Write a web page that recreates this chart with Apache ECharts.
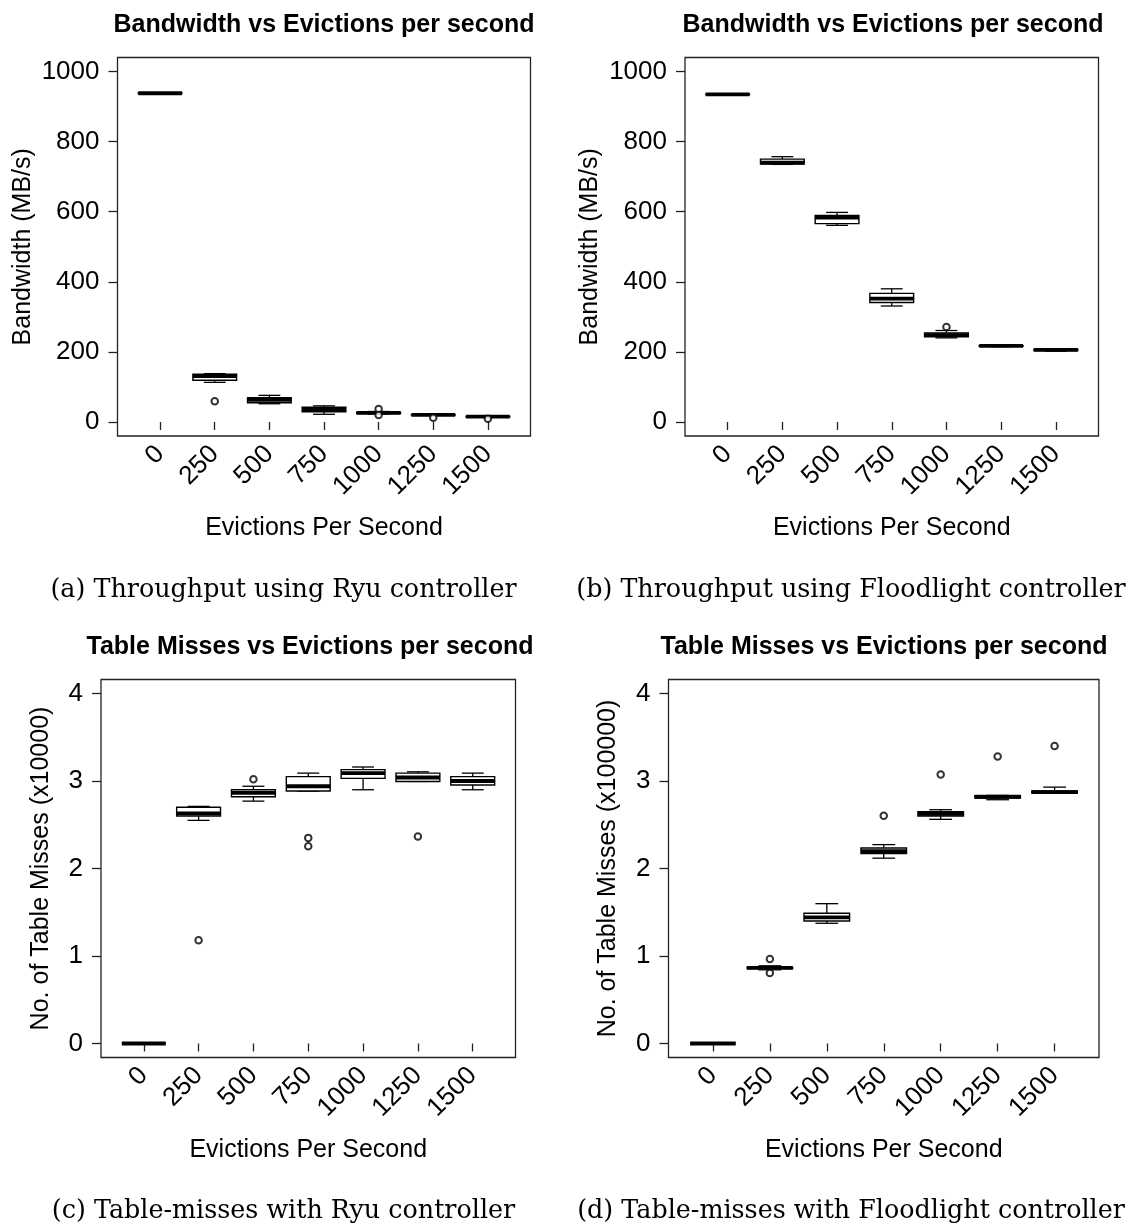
<!DOCTYPE html>
<html>
<head>
<meta charset="utf-8">
<title>Evictions per second: bandwidth and table misses</title>
<script src="https://cdn.jsdelivr.net/npm/echarts@6/dist/echarts.min.js"></script>
<style>
  html, body { margin: 0; padding: 0; background: #fff; }
  #chart { width: 1128px; height: 1224px; }
</style>
</head>
<body>
<div id="chart"></div>
<script>
// Eviction rates shown on every x axis
const categories = ['0', '250', '500', '750', '1000', '1250', '1500'];

// Tick values of the two kinds of y axis
const bandwidthTicks = [0, 200, 400, 600, 800, 1000];
const missesTicks = [0, 1, 2, 3, 4];

// Box statistics per eviction rate: [lower whisker, Q1, median, Q3, upper whisker]
const ryuBandwidth = [
  [937, 937.5, 938, 938.5, 939],
  [113, 119, 131, 136, 138],
  [52, 55, 63, 69, 76],
  [22, 29, 36, 42, 46],
  [23, 24, 26, 28, 30],
  [19, 20, 20.5, 21, 22],
  [14, 15, 15.5, 16, 17]
];
// Outliers: [eviction rate, value]
const ryuBandwidthOutliers = [['250', 59], ['1000', 37], ['1000', 20], ['1250', 12], ['1500', 9.5]];

const floodlightBandwidth = [
  [934, 934.5, 935, 935.5, 936],
  [735, 736, 740, 750, 757],
  [561, 566, 583, 589, 598],
  [331, 341, 352, 367, 380],
  [240, 243, 248, 254, 261],
  [215, 216, 217, 218, 219],
  [202, 204, 206, 208, 209]
];
const floodlightBandwidthOutliers = [['1000', 271]];

const ryuMisses = [
  [0, 0, 0, 0, 0],
  [2.55, 2.60, 2.63, 2.70, 2.71],
  [2.77, 2.82, 2.865, 2.90, 2.94],
  [2.885, 2.885, 2.94, 3.05, 3.09],
  [2.90, 3.03, 3.09, 3.13, 3.16],
  [2.995, 2.995, 3.04, 3.09, 3.105],
  [2.90, 2.955, 3.00, 3.05, 3.09]
];
const ryuMissesOutliers = [['250', 1.18], ['500', 3.02], ['750', 2.35], ['750', 2.255], ['1250', 2.365]];

const floodlightMisses = [
  [0, 0, 0, 0, 0],
  [0.842, 0.858, 0.865, 0.872, 0.888],
  [1.374, 1.40, 1.442, 1.488, 1.598],
  [2.118, 2.171, 2.197, 2.235, 2.273],
  [2.562, 2.60, 2.626, 2.649, 2.672],
  [2.786, 2.805, 2.82, 2.832, 2.835],
  [2.86, 2.862, 2.873, 2.885, 2.93]
];
const floodlightMissesOutliers = [['250', 0.965], ['250', 0.806], ['750', 2.603], ['1000', 3.074], ['1250', 3.279], ['1500', 3.40]];

// Layout of the four panels
const panels = [
  { title: 'Bandwidth vs Evictions per second', yName: 'Bandwidth (MB/s)',
    caption: '(a) Throughput using Ryu controller',
    boxes: ryuBandwidth, outliers: ryuBandwidthOutliers, ticks: bandwidthTicks,
    yMin: -40, yMax: 1040,
    grid: { left: 117.5, top: 57.5, width: 413, height: 378.5 }, nameGap: 82,
    titleX: 324, captionX: 283.5 },
  { title: 'Bandwidth vs Evictions per second', yName: 'Bandwidth (MB/s)',
    caption: '(b) Throughput using Floodlight controller',
    boxes: floodlightBandwidth, outliers: floodlightBandwidthOutliers, ticks: bandwidthTicks,
    yMin: -40, yMax: 1040,
    grid: { left: 685, top: 57.5, width: 413.5, height: 378.5 }, nameGap: 82,
    titleX: 893, captionX: 851 },
  { title: 'Table Misses vs Evictions per second', yName: 'No. of Table Misses (x10000)',
    caption: '(c) Table-misses with Ryu controller',
    boxes: ryuMisses, outliers: ryuMissesOutliers, ticks: missesTicks,
    yMin: -0.16, yMax: 4.16,
    grid: { left: 101, top: 679.5, width: 414.5, height: 378 }, nameGap: 47,
    titleX: 310, captionX: 283.5 },
  { title: 'Table Misses vs Evictions per second', yName: 'No. of Table Misses (x100000)',
    caption: '(d) Table-misses with Floodlight controller',
    boxes: floodlightMisses, outliers: floodlightMissesOutliers, ticks: missesTicks,
    yMin: -0.16, yMax: 4.16,
    grid: { left: 668.5, top: 679.5, width: 430.5, height: 378 }, nameGap: 48,
    titleX: 884, captionX: 851 }
];

const SANS = '"Liberation Sans", Arial, sans-serif';
const SERIF = '"DejaVu Serif", "Liberation Serif", serif';
const catPositions = categories.map((c, i) => i + 1);

// Classic boxplot glyph: whiskers with half-width staples, white box, heavy median
function renderBox(params, api) {
  const pos = api.value(0);
  const lo = api.value(1), q1 = api.value(2), med = api.value(3), q3 = api.value(4), hi = api.value(5);
  const cx = api.coord([pos, med])[0];
  const y = v => api.coord([pos, v])[1];
  const half = api.size([0.8, 0])[0] / 2;
  const cap = half / 2;
  const thin = () => ({ stroke: '#000', lineWidth: 1.3, fill: null });
  return {
    type: 'group',
    children: [
      { type: 'line', shape: { x1: cx, y1: y(hi), x2: cx, y2: y(q3) }, style: thin() },
      { type: 'line', shape: { x1: cx, y1: y(q1), x2: cx, y2: y(lo) }, style: thin() },
      { type: 'line', shape: { x1: cx - cap, y1: y(hi), x2: cx + cap, y2: y(hi) }, style: thin() },
      { type: 'line', shape: { x1: cx - cap, y1: y(lo), x2: cx + cap, y2: y(lo) }, style: thin() },
      { type: 'rect', shape: { x: cx - half, y: y(q3), width: 2 * half, height: y(q1) - y(q3) },
        style: { fill: '#fff', stroke: '#000', lineWidth: 1.4 } },
      { type: 'line', shape: { x1: cx - half, y1: y(med), x2: cx + half, y2: y(med) },
        style: { stroke: '#000', lineWidth: 3.8 } }
    ]
  };
}

const grid = [], xAxis = [], yAxis = [], series = [], graphic = [];

panels.forEach((p, i) => {
  grid.push(Object.assign({ show: true, borderColor: '#222', borderWidth: 1.3,
    backgroundColor: 'transparent', containLabel: false }, p.grid));

  xAxis.push({
    type: 'value', gridIndex: i, min: 0.22, max: 7.78,
    name: 'Evictions Per Second', nameLocation: 'middle', nameGap: 80,
    nameTextStyle: { fontFamily: SANS, fontSize: 25, color: '#000' },
    axisLine: { show: false },
    splitLine: { show: false },
    axisTick: { show: true, length: 8, customValues: catPositions,
      lineStyle: { color: '#222', width: 1.3 } },
    axisLabel: { customValues: catPositions, rotate: 45, margin: 14,
      fontFamily: SANS, fontSize: 26, color: '#000',
      formatter: v => categories[Math.round(v) - 1] }
  });

  yAxis.push({
    type: 'value', gridIndex: i, min: p.yMin, max: p.yMax,
    name: p.yName, nameLocation: 'middle', nameGap: p.nameGap, nameRotate: 90,
    nameTextStyle: { fontFamily: SANS, fontSize: 25, color: '#000' },
    axisLine: { show: false },
    splitLine: { show: false },
    axisTick: { show: true, length: 9, customValues: p.ticks,
      lineStyle: { color: '#222', width: 1.3 } },
    axisLabel: { customValues: p.ticks, margin: 18,
      fontFamily: SANS, fontSize: 26, color: '#000',
      formatter: v => String(v) }
  });

  series.push({
    type: 'custom', xAxisIndex: i, yAxisIndex: i,
    renderItem: renderBox,
    encode: { x: 0, y: [1, 2, 3, 4, 5] },
    data: p.boxes.map((b, k) => [k + 1].concat(b)),
    silent: true, z: 2
  });

  series.push({
    type: 'scatter', xAxisIndex: i, yAxisIndex: i,
    symbol: 'emptyCircle', symbolSize: 6.5,
    itemStyle: { color: '#000', borderWidth: 1.1 },
    data: p.outliers.map(o => [categories.indexOf(o[0]) + 1, o[1]]),
    silent: true, z: 3
  });

  const top = p.grid.top;
  graphic.push({
    type: 'text', x: p.titleX, y: top - 32.5,
    style: { text: p.title, fontFamily: SANS, fontSize: 25, fontWeight: 'bold',
      fill: '#000', align: 'center', verticalAlign: 'middle' }
  });
  graphic.push({
    type: 'text', x: p.captionX, y: top + p.grid.height + 154,
    style: { text: p.caption, fontFamily: SERIF, fontSize: 25.4,
      fill: '#000', align: 'center', verticalAlign: 'middle' }
  });
});

const chart = echarts.init(document.getElementById('chart'), null, { renderer: 'canvas' });
chart.setOption({
  animation: false,
  backgroundColor: '#fff',
  grid, xAxis, yAxis, series, graphic
});
</script>
</body>
</html>
